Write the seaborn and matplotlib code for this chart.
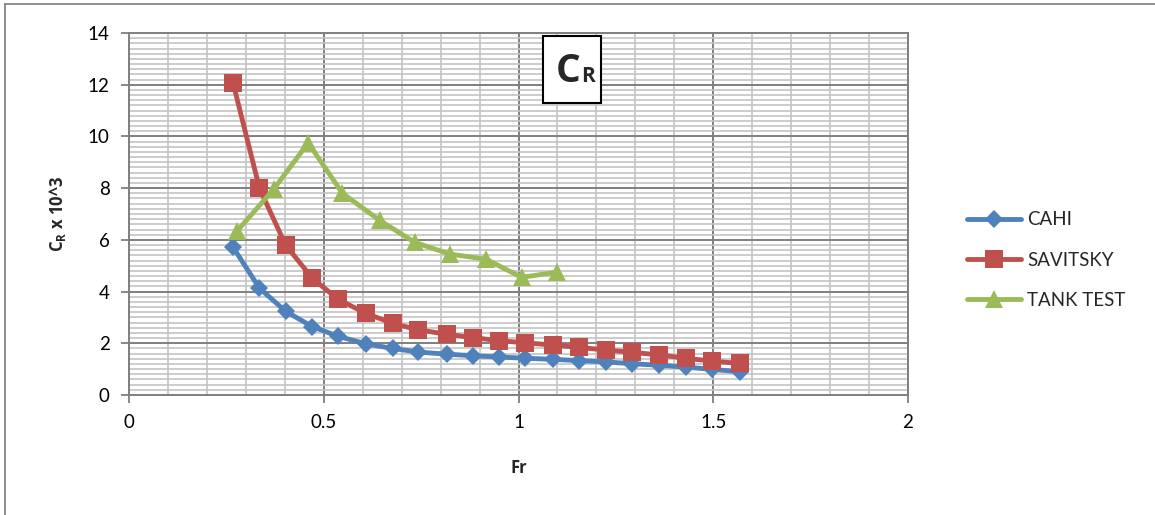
import pandas as pd
import matplotlib.pyplot as plt
import matplotlib.patches as mpatches
from matplotlib.lines import Line2D
from matplotlib.ticker import MultipleLocator, FuncFormatter
import seaborn as sns

sns.set_theme(style='white')
plt.rcParams['font.family'] = ['Lato', 'DejaVu Sans']

# data
fr_cahi = [0.267, 0.335, 0.402, 0.471, 0.537, 0.608, 0.677, 0.743, 0.816, 0.882,
           0.951, 1.017, 1.088, 1.156, 1.224, 1.292, 1.362, 1.429, 1.498, 1.568]
cr_cahi = [5.72, 4.13, 3.24, 2.64, 2.27, 1.98, 1.80, 1.66, 1.58, 1.52,
           1.47, 1.42, 1.38, 1.33, 1.28, 1.21, 1.15, 1.08, 0.99, 0.90]
fr_savitsky = fr_cahi
cr_savitsky = [12.08, 7.99, 5.80, 4.51, 3.70, 3.16, 2.77, 2.52, 2.35, 2.22,
               2.10, 2.02, 1.93, 1.84, 1.74, 1.65, 1.55, 1.42, 1.31, 1.22]
fr_tank = [0.278, 0.371, 0.460, 0.548, 0.644, 0.734, 0.824, 0.917, 1.008, 1.098]
cr_tank = [6.35, 7.95, 9.75, 7.80, 6.75, 5.90, 5.45, 5.25, 4.55, 4.75]
series = ['CAHI', 'SAVITSKY', 'TANK TEST']

df = pd.concat([
    pd.DataFrame({'Fr': fr_cahi, 'CR': cr_cahi, 'Method': series[0]}),
    pd.DataFrame({'Fr': fr_savitsky, 'CR': cr_savitsky, 'Method': series[1]}),
    pd.DataFrame({'Fr': fr_tank, 'CR': cr_tank, 'Method': series[2]}),
])

colors = {'CAHI': '#4F81BD', 'SAVITSKY': '#C0504D', 'TANK TEST': '#9BBB59'}
markers = {'CAHI': 'D', 'SAVITSKY': 's', 'TANK TEST': '^'}
msizes = {'CAHI': 9.5, 'SAVITSKY': 12.5, 'TANK TEST': 12.5}

fig = plt.figure(figsize=(11.55, 5.15), dpi=100)
ax = fig.add_axes([129 / 1155, 1 - 395 / 515, (908 - 129) / 1155, (395 - 33) / 515])

for name in series:
    sub = df[df['Method'] == name]
    sns.lineplot(data=sub, x='Fr', y='CR', ax=ax, color=colors[name], marker=markers[name],
                 markersize=msizes[name], markeredgewidth=0, linewidth=3.5, sort=False,
                 label=name, zorder=3)

ax.set_xlim(0, 2)
ax.set_ylim(0, 14)
ax.xaxis.set_major_locator(MultipleLocator(0.5))
ax.xaxis.set_minor_locator(MultipleLocator(0.1))
ax.yaxis.set_major_locator(MultipleLocator(2))
ax.yaxis.set_minor_locator(MultipleLocator(0.2))
ax.xaxis.set_major_formatter(FuncFormatter(lambda v, p: f'{v:g}'))
ax.yaxis.set_major_formatter(FuncFormatter(lambda v, p: f'{v:g}'))
ax.grid(which='minor', color='#C4C4C4', linewidth=1.2, zorder=0)
ax.grid(which='major', color='#7F7F7F', linewidth=1.4, zorder=1)
ax.set_axisbelow(True)
for s in ax.spines.values():
    s.set_color('#7F7F7F')
    s.set_linewidth(1.4)
ax.tick_params(which='major', direction='out', length=6, width=1.3, color='#7F7F7F',
               labelsize=13.5, labelcolor='black', pad=8, bottom=True, left=True)
ax.tick_params(which='minor', length=0)

bold = ['Open Sans', 'DejaVu Sans']
ax.set_xlabel('Fr', fontsize=12, fontweight='bold', family=bold, labelpad=20)
ax.set_ylabel('C$_{\\mathregular{R}}$ x 10^3', fontsize=12, fontweight='bold', family=bold,
              labelpad=14)

# title box
fig.patches.append(mpatches.Rectangle((543 / 1155, 1 - 103 / 515), 58 / 1155, 67 / 515,
                                      transform=fig.transFigure, facecolor='white',
                                      edgecolor='black', linewidth=1.5, zorder=5))
fig.text(568 / 1155, 1 - 71 / 515, 'C', fontsize=28, fontweight='bold', family=bold,
         ha='center', va='center', zorder=6)
fig.text(588 / 1155, 1 - 77 / 515, 'R', fontsize=15, fontweight='bold', family=bold,
         ha='center', va='center', zorder=6)

# chart area border (left and top edges)
fig.add_artist(Line2D([5 / 1155, 5 / 1155], [0, 1 - 4 / 515], transform=fig.transFigure,
                      color='#868686', linewidth=1.3))
fig.add_artist(Line2D([5 / 1155, 1], [1 - 4 / 515, 1 - 4 / 515], transform=fig.transFigure,
                      color='#868686', linewidth=1.3))

ax.legend(loc='center left', bbox_to_anchor=(950 / 1155, 1 - 260 / 515),
          bbox_transform=fig.transFigure, frameon=False, fontsize=13.5,
          handlelength=2.9, labelspacing=1.25, handletextpad=0.3)

fig.savefig('out.png', dpi=100)
